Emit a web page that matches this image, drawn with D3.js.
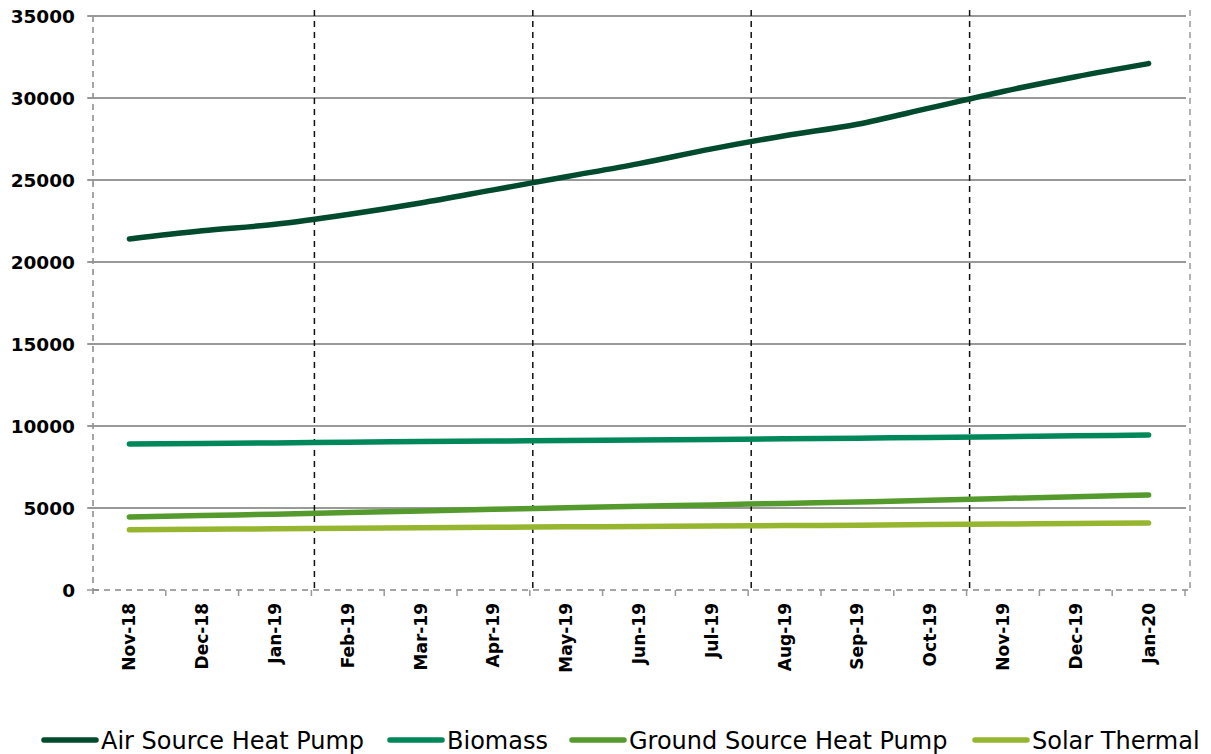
<!DOCTYPE html>
<html>
<head>
<meta charset="utf-8">
<script src="https://cdn.jsdelivr.net/npm/d3@7"></script>
<style>
	body { margin: 0; background: #fff; }
	text { font-family: 'DejaVu Sans', sans-serif; }
</style>
</head>
<body>
<script>
const MONTHS = ['Nov-18','Dec-18','Jan-19','Feb-19','Mar-19','Apr-19','May-19','Jun-19','Jul-19','Aug-19','Sep-19','Oct-19','Nov-19','Dec-19','Jan-20'];
const SERIES = ['Air Source Heat Pump','Biomass','Ground Source Heat Pump','Solar Thermal'];
const AIR_SOURCE = [21400,21900,22300,22900,23600,24400,25200,26000,26900,27700,28400,29400,30400,31300,32100];
const BIOMASS = [8900,8930,8970,9010,9050,9080,9120,9150,9180,9220,9260,9300,9350,9400,9450];
const GROUND_SOURCE = [4450,4540,4620,4720,4820,4920,5010,5100,5190,5280,5370,5470,5580,5690,5790];
const SOLAR = [3680,3700,3730,3760,3790,3820,3850,3870,3900,3930,3950,3990,4020,4050,4090];
const COLOURS = ['#004a2d','#00875a','#559a2c','#97b62f'];
const Y_TICKS = [0,5000,10000,15000,20000,25000,30000,35000];
const QUARTER_BREAKS = ['Feb-19','May-19','Aug-19','Nov-19'];

const values = [AIR_SOURCE, BIOMASS, GROUND_SOURCE, SOLAR];

let svg = d3.select('body').append('svg')
	.attr('width', 1211)
	.attr('height', 754);

let x = d3.scaleBand()
	.domain(MONTHS)
	.range([93, 1185]);

let y = d3.scaleLinear()
	.domain([0, 35000])
	.range([590, 16]);

// horizontal gridlines
svg.append('g')
	.selectAll('line')
	.data(Y_TICKS.filter(t => t > 0))
	.enter()
	.append('line')
	.attr('x1', 88)
	.attr('x2', 1186)
	.attr('y1', t => y(t))
	.attr('y2', t => y(t))
	.attr('stroke', '#999')
	.attr('stroke-width', 2);

// y axis (dashed) and ticks
svg.append('line')
	.attr('x1', 93).attr('x2', 93)
	.attr('y1', y(35000)).attr('y2', 595)
	.attr('stroke', '#888')
	.attr('stroke-width', 1.5)
	.attr('stroke-dasharray', '6,5');

svg.append('g')
	.selectAll('line')
	.data(Y_TICKS)
	.enter()
	.append('line')
	.attr('x1', 87).attr('x2', 99)
	.attr('y1', t => y(t)).attr('y2', t => y(t))
	.attr('stroke', '#999')
	.attr('stroke-width', 1.5);

svg.append('g')
	.selectAll('text')
	.data(Y_TICKS)
	.enter()
	.append('text')
	.attr('x', 75)
	.attr('y', t => y(t) + 7)
	.attr('text-anchor', 'end')
	.style('font-size', '18.5px')
	.style('font-weight', 'bold')
	.text(t => t);

// right border (dashed)
svg.append('line')
	.attr('x1', 1190).attr('x2', 1190)
	.attr('y1', 10).attr('y2', 590)
	.attr('stroke', '#999')
	.attr('stroke-width', 1.5)
	.attr('stroke-dasharray', '6,5');

// x axis (dashed) and ticks at band edges
svg.append('line')
	.attr('x1', 93).attr('x2', 1188)
	.attr('y1', 590).attr('y2', 590)
	.attr('stroke', '#888')
	.attr('stroke-width', 1.5)
	.attr('stroke-dasharray', '6,5');

svg.append('g')
	.selectAll('line')
	.data(MONTHS.slice(1).concat(['end']))
	.enter()
	.append('line')
	.attr('x1', (m, i) => x.range()[0] + x.step() * (i + 1))
	.attr('x2', (m, i) => x.range()[0] + x.step() * (i + 1))
	.attr('y1', 590).attr('y2', 596)
	.attr('stroke', '#999')
	.attr('stroke-width', 1.5);

// quarter breaks (black dashed)
svg.append('g')
	.selectAll('line')
	.data(QUARTER_BREAKS)
	.enter()
	.append('line')
	.attr('x1', m => x(m) + 3)
	.attr('x2', m => x(m) + 3)
	.attr('y1', 10).attr('y2', 590)
	.attr('stroke', '#111')
	.attr('stroke-width', 1.5)
	.attr('stroke-dasharray', '6,5');

// month labels
svg.append('g')
	.selectAll('text')
	.data(MONTHS)
	.enter()
	.append('text')
	.attr('transform', m => `translate(${x(m) + x.bandwidth() / 2 + 6}, 603) rotate(-90)`)
	.attr('text-anchor', 'end')
	.style('font-size', '17px')
	.style('font-weight', 'bold')
	.text(m => m);

// series lines
let line = d3.line()
	.x((v, i) => x(MONTHS[i]) + x.bandwidth() / 2)
	.y(v => y(v))
	.curve(d3.curveMonotoneX);

svg.append('g')
	.selectAll('path')
	.data(values)
	.enter()
	.append('path')
	.attr('d', series => line(series))
	.attr('fill', 'none')
	.attr('stroke', (s, i) => COLOURS[i])
	.attr('stroke-width', 5.5)
	.attr('stroke-linecap', 'round');

// legend
const LEGEND_X = [42, 388, 570, 973];
let legend = svg.append('g')
	.selectAll('g')
	.data(SERIES)
	.enter()
	.append('g')
	.attr('transform', (s, i) => `translate(${LEGEND_X[i]}, 740)`);

legend.append('line')
	.attr('x1', 2).attr('x2', 54)
	.attr('y1', 0).attr('y2', 0)
	.attr('stroke', (s, i) => COLOURS[i])
	.attr('stroke-width', 5.5)
	.attr('stroke-linecap', 'round');

legend.append('text')
	.attr('x', 59)
	.attr('y', 9)
	.style('font-size', '24px')
	.text(s => s);
</script>
</body>
</html>
